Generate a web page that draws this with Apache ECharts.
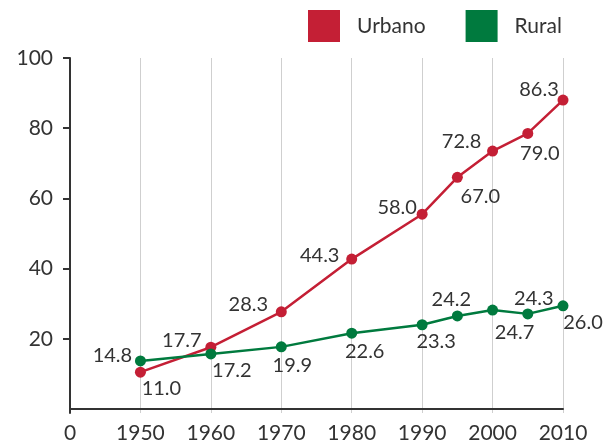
<!DOCTYPE html>
<html>
<head>
<meta charset="utf-8">
<script src="https://cdn.jsdelivr.net/npm/echarts@6/dist/echarts.min.js"></script>
<style>
html,body{margin:0;padding:0;background:#fff;}
#chart{width:609px;height:445px;}
</style>
</head>
<body>
<div id="chart"></div>
<script>
// ---- data ----
const years = [1950, 1960, 1970, 1980, 1990, 1995, 2000, 2005, 2010];
const urbanoValues = [10.5, 17.6, 27.7, 42.7, 55.5, 66.0, 73.5, 78.5, 88.0];
const ruralValues  = [13.7, 15.7, 17.7, 21.6, 24.0, 26.5, 28.2, 27.1, 29.4];
const urbanoLabels = ['11.0', '17.7', '28.3', '44.3', '58.0', '67.0', '72.8', '79.0', '86.3'];
const ruralLabels  = ['14.8', '17.2', '19.9', '22.6', '23.3', '24.2', '24.7', '24.3', '26.0'];
const seriesNames = ['Urbano', 'Rural'];
const xTickValues = [1940, 1950, 1960, 1970, 1980, 1990, 2000, 2010];
const xTickLabels = ['0', '1950', '1960', '1970', '1980', '1990', '2000', '2010'];
const yTickValues = [20, 40, 60, 80, 100];

// ---- label placement (styling, pixel offsets of label centre from each point) ----
const urbanoLabelOffsets = [[21,16],[-29,-7],[-33,-7],[-32,-4],[-25,-7],[23,19],[-31,-9],[12,20],[-24,-11]];
const ruralLabelOffsets  = [[-28,-5],[21,17],[11,19],[13,18],[14,17],[-6,-16],[22,23],[6,-15],[20,17]];

const FONT = 'Lato';
const RED = '#C41F35';
const GREEN = '#007A3E';
const TEXT = '#333333';
const SYM = 11;

function buildData(vals, offs) {
  return years.map((y, i) => ({
    value: [y, vals[i]],
    label: {
      position: [SYM / 2 + offs[i][0], SYM / 2 + offs[i][1]],
      align: 'center',
      verticalAlign: 'middle'
    }
  }));
}

const chart = echarts.init(document.getElementById('chart'), null, {renderer: 'canvas'});
chart.setOption({
  animation: false,
  backgroundColor: '#ffffff',
  textStyle: { fontFamily: FONT },
  legend: {
    data: seriesNames,
    left: 303,
    top: 5,
    icon: 'rect',
    itemWidth: 32,
    itemHeight: 32,
    itemGap: 40,
    textStyle: { fontFamily: FONT, fontSize: 21, color: TEXT, padding: [0, 0, 0, 12] }
  },
  grid: {
    left: 70, right: 46, top: 58, bottom: 32,
    containLabel: false,
    outerBoundsMode: 'none'
  },
  xAxis: {
    type: 'value',
    min: 1940, max: 2010, interval: 10,
    axisLine: { show: true, lineStyle: { color: '#333', width: 2 } },
    axisTick: { show: false },
    axisLabel: {
      margin: 10,
      fontFamily: FONT, fontSize: 21, color: TEXT,
      showMinLabel: true, showMaxLabel: true,
      formatter: v => { const k = xTickValues.indexOf(v); return k >= 0 ? xTickLabels[k] : ''; }
    },
    splitLine: { show: true, lineStyle: { color: '#cfcfcf', width: 1 } }
  },
  yAxis: {
    type: 'value',
    min: -1.14, max: 100,
    axisLine: { show: true, onZero: false, lineStyle: { color: '#333', width: 2 } },
    axisTick: { show: true, inside: false, length: 7, lineStyle: { color: '#333', width: 2 }, customValues: yTickValues },
    axisLabel: {
      margin: 17,
      fontFamily: FONT, fontSize: 21, color: TEXT,
      customValues: yTickValues
    },
    splitLine: { show: false }
  },
  series: [
    {
      name: seriesNames[0],
      type: 'line',
      data: buildData(urbanoValues, urbanoLabelOffsets),
      symbol: 'circle', symbolSize: SYM,
      color: RED,
      itemStyle: { color: RED },
      lineStyle: { color: RED, width: 2.5 },
      label: {
        show: true,
        fontFamily: FONT, fontSize: 20, color: TEXT,
        formatter: p => urbanoLabels[p.dataIndex]
      },
      labelLayout: { hideOverlap: false }
    },
    {
      name: seriesNames[1],
      type: 'line',
      data: buildData(ruralValues, ruralLabelOffsets),
      symbol: 'circle', symbolSize: SYM,
      color: GREEN,
      itemStyle: { color: GREEN },
      lineStyle: { color: GREEN, width: 2.5 },
      label: {
        show: true,
        fontFamily: FONT, fontSize: 20, color: TEXT,
        formatter: p => ruralLabels[p.dataIndex]
      },
      labelLayout: { hideOverlap: false }
    }
  ]
});
</script>
</body>
</html>
